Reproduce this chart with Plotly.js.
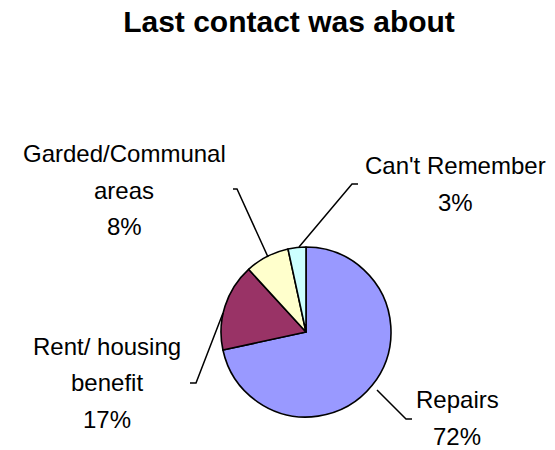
<!DOCTYPE html>
<html>
<head>
<meta charset="utf-8">
<script src="https://cdn.plot.ly/plotly-3.0.1.min.js"></script>
<style>html,body{margin:0;padding:0;background:#fff;}#chart{width:555px;height:450px;}</style>
</head>
<body>
<div id="chart"></div>
<script>
// ---- data ----
var categories = ["Repairs", "Rent/ housing<br>benefit", "Garded/Communal<br>areas", "Can't Remember"];
var values = [71.6, 16.6, 8.4, 3.4];
var colors = ["#9999FF", "#993366", "#FFFFCC", "#CCFFFF"];
var titleText = "Last contact was about";

// ---- layout helpers (pixel positions -> paper) ----
var W = 555, H = 450;
function px(x) { return x / W; }
function py(y) { return 1 - y / H; }

// label anchor: centre x, first-line cap-centre y (pixels)
var labelPos = [
  {x: 457, y: 399.5},
  {x: 107, y: 346},
  {x: 124, y: 153.5},
  {x: 455, y: 166}
];
var lineGap = 36.5;
// leader lines (pixels): start at pie, elbow, tick end
var leaders = [
  [[377, 390], [406, 419], [412, 419]],
  [[223, 313], [196, 383], [190, 383]],
  [[268, 257], [237, 189], [233, 189]],
  [[299, 247], [352, 184], [358, 184]]
];

var total = values.reduce(function (a, b) { return a + b; }, 0);
var fontFam = "Liberation Sans, Arial, sans-serif";

var annotations = [];
var shapes = [];
categories.forEach(function (cat, i) {
  var lines = cat.split("<br>");
  lines.push(Math.round(values[i] / total * 100) + "%");
  lines.forEach(function (ln, j) {
    annotations.push({
      text: ln, showarrow: false, xref: "paper", yref: "paper",
      x: px(labelPos[i].x), y: py(labelPos[i].y + j * lineGap),
      xanchor: "center", yanchor: "middle",
      font: {family: fontFam, size: 24, color: "#000"}
    });
  });
  var p = leaders[i];
  var path = "M" + px(p[0][0]) + "," + py(p[0][1]) +
             " L" + px(p[1][0]) + "," + py(p[1][1]) +
             " L" + px(p[2][0]) + "," + py(p[2][1]);
  shapes.push({type: "path", xref: "paper", yref: "paper", path: path,
               line: {color: "#000", width: 1.5}});
});

var trace = {
  type: "pie",
  labels: categories,
  values: values,
  sort: false,
  direction: "clockwise",
  rotation: 0,
  textinfo: "none",
  hoverinfo: "label+percent",
  marker: {colors: colors, line: {color: "#000", width: 1.6}},
  domain: {x: [px(221), px(391)], y: [py(417), py(247)]},
  showlegend: false
};

var layout = {
  width: W, height: H,
  margin: {l: 0, r: 0, t: 0, b: 0},
  paper_bgcolor: "#fff",
  title: {
    text: "<b>" + titleText + "</b>",
    x: px(289), xanchor: "center", y: py(21), yanchor: "middle",
    font: {family: fontFam, size: 30, color: "#000"}
  },
  annotations: annotations,
  shapes: shapes,
  showlegend: false
};

Plotly.newPlot("chart", [trace], layout, {displayModeBar: false, staticPlot: true});
</script>
</body>
</html>
